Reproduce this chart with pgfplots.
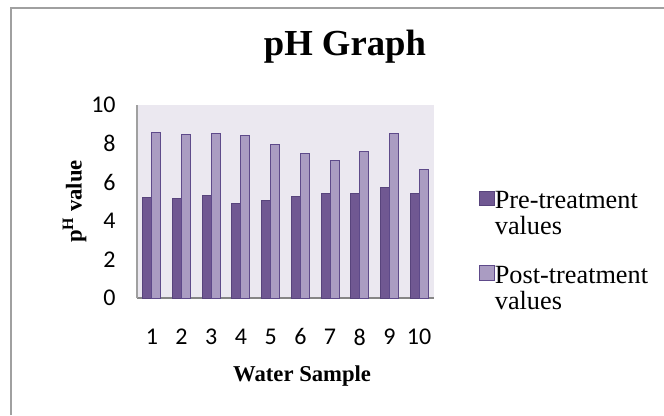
\documentclass[border=0pt]{standalone}
\usepackage{pgfplots}
\pgfplotsset{compat=1.18}
\usepackage{fontspec}
\setmainfont{Liberation Serif}
\newfontfamily\carlito{Carlito}
\definecolor{preFill}{RGB}{112,88,146}
\definecolor{preEdge}{RGB}{88,68,124}
\definecolor{postFill}{RGB}{170,156,194}
\definecolor{postEdge}{RGB}{94,74,138}
\definecolor{plotbg}{RGB}{235,232,240}
\definecolor{framegray}{RGB}{160,160,160}
\definecolor{axisgray}{RGB}{134,134,134}
\begin{document}
\begin{tikzpicture}
\path[use as bounding box] (0pt,0pt) rectangle (498pt,311.25pt);
\draw[framegray, line width=1.5pt] (8.25pt,0pt) -- (8.25pt,304.875pt) -- (498pt,304.875pt);
\begin{axis}[
  at={(102.75pt,87.75pt)}, anchor=south west,
  scale only axis, width=222.75pt, height=144.75pt,
  ybar=0pt, bar width=6.75pt,
  xmin=0.5, xmax=10.5, ymin=0, ymax=10,
  xtick={1,2,...,10}, ytick={0,2,...,10},
  major tick length=0pt,
  axis x line*=bottom, axis y line*=left,
  x axis line style={draw=axisgray, line width=1.5pt, -},
  y axis line style={draw=framegray, line width=1.5pt, -},
  axis background/.style={fill=plotbg},
  /pgf/number format/assume math mode=true,
  tick label style={font=\carlito\fontsize{18}{21}\selectfont},
  xticklabel style={yshift=-19.5pt},
  yticklabel style={xshift=-12.5pt},
  title={pH Graph},
  title style={font=\bfseries\fontsize{27.5}{30}\selectfont, at={(axis description cs:0.70,1.2176)}, anchor=base},
  xlabel={Water Sample},
  every axis x label/.style={at={(axis description cs:0.556,-0.404)}, anchor=center, font=\bfseries\fontsize{17}{20}\selectfont},
  ylabel={p\textsuperscript{H} value},
  every axis y label/.style={at={(axis description cs:-0.21,0.5)}, rotate=90, anchor=center, font=\bfseries\fontsize{17}{20}\selectfont},
  legend style={at={(axis description cs:1.152,0.559)}, anchor=north west, draw=none, fill=none, inner sep=0pt, row sep=40.75pt,
    font=\fontsize{19.7}{19.5}\selectfont, nodes={inner sep=0pt}},
  legend cell align=left,
  /tikz/every even column/.append style={column sep=8pt},
  legend image code/.code={\draw[#1, line width=0.6pt] (0pt,-4pt) rectangle (11pt,7pt);},
]
\addplot[fill=preFill, draw=preEdge, line width=0.75pt] coordinates {
(1,5.23) (2,5.18) (3,5.33) (4,4.92) (5,5.07) (6,5.28) (7,5.43) (8,5.43) (9,5.74) (10,5.43)};
\addplot[fill=postFill, draw=postEdge, line width=0.75pt] coordinates {
(1,8.6) (2,8.45) (3,8.5) (4,8.43) (5,7.97) (6,7.5) (7,7.1) (8,7.6) (9,8.5) (10,6.65)};
\addlegendentry{\begin{tabular}[t]{@{}l@{}}Pre-treatment\\values\end{tabular}}
\addlegendentry{\begin{tabular}[t]{@{}l@{}}Post-treatment\\values\end{tabular}}
\end{axis}
\end{tikzpicture}
\end{document}
